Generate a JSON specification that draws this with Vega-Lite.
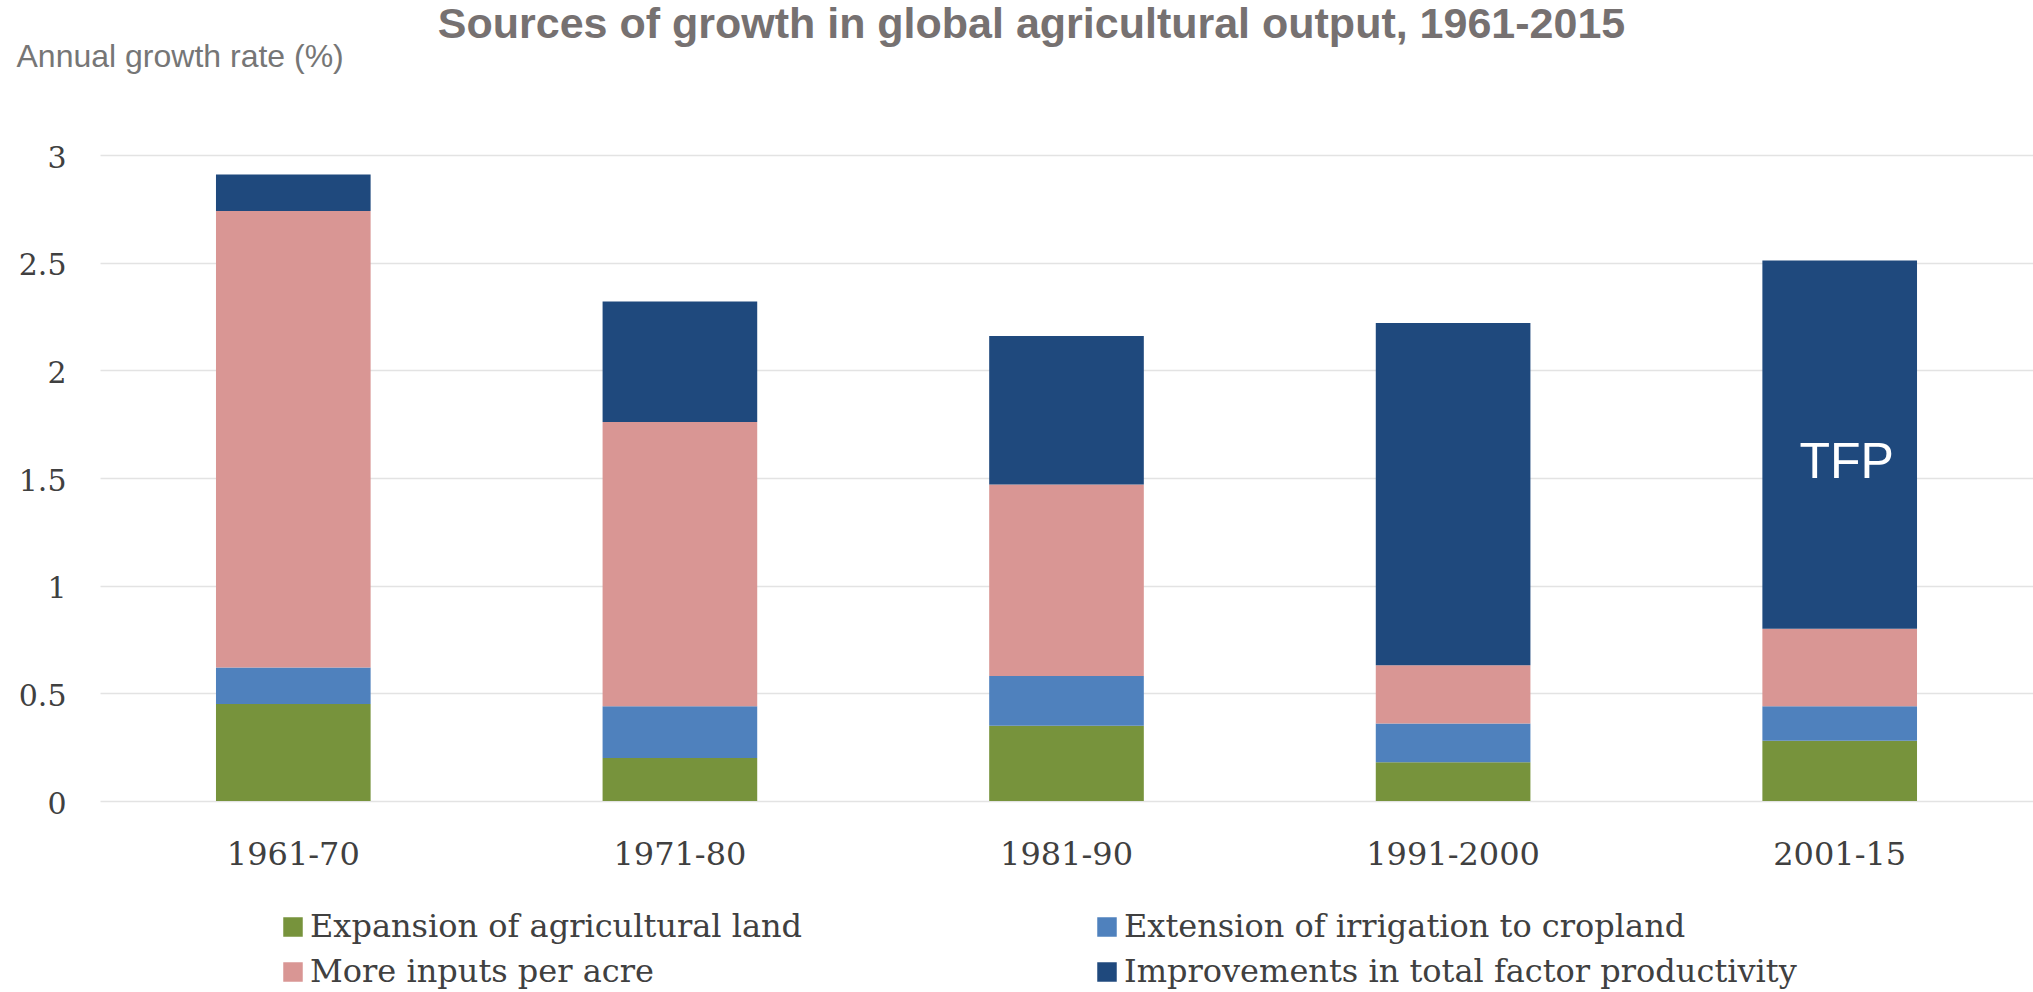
{
  "$schema": "https://vega.github.io/schema/vega-lite/v6.json",
  "width": 1933,
  "height": 646,
  "autosize": {"type": "none"},
  "padding": {"left": 100, "top": 155, "right": 0, "bottom": 191},
  "background": "white",
  "title": {
    "text": "Sources of growth in global agricultural output, 1961-2015",
    "font": "Liberation Sans",
    "fontSize": 43,
    "fontWeight": "bold",
    "color": "#767171",
    "anchor": "middle",
    "frame": "group",
    "dx": -35,
    "dy": 7,
    "offset": 0
  },
  "config": {
    "view": {"stroke": null},
    "axis": {"grid": false}
  },
  "layer": [
    {
      "data": {
        "values": [
          {"period": "1961-70", "source": "Expansion of agricultural land", "value": 0.45},
          {"period": "1961-70", "source": "Extension of irrigation to cropland", "value": 0.17},
          {"period": "1961-70", "source": "More inputs per acre", "value": 2.12},
          {"period": "1961-70", "source": "Improvements in total factor productivity", "value": 0.17},
          {"period": "1971-80", "source": "Expansion of agricultural land", "value": 0.20},
          {"period": "1971-80", "source": "Extension of irrigation to cropland", "value": 0.24},
          {"period": "1971-80", "source": "More inputs per acre", "value": 1.32},
          {"period": "1971-80", "source": "Improvements in total factor productivity", "value": 0.56},
          {"period": "1981-90", "source": "Expansion of agricultural land", "value": 0.35},
          {"period": "1981-90", "source": "Extension of irrigation to cropland", "value": 0.23},
          {"period": "1981-90", "source": "More inputs per acre", "value": 0.89},
          {"period": "1981-90", "source": "Improvements in total factor productivity", "value": 0.69},
          {"period": "1991-2000", "source": "Expansion of agricultural land", "value": 0.18},
          {"period": "1991-2000", "source": "Extension of irrigation to cropland", "value": 0.18},
          {"period": "1991-2000", "source": "More inputs per acre", "value": 0.27},
          {"period": "1991-2000", "source": "Improvements in total factor productivity", "value": 1.59},
          {"period": "2001-15", "source": "Expansion of agricultural land", "value": 0.28},
          {"period": "2001-15", "source": "Extension of irrigation to cropland", "value": 0.16},
          {"period": "2001-15", "source": "More inputs per acre", "value": 0.36},
          {"period": "2001-15", "source": "Improvements in total factor productivity", "value": 1.71}
        ]
      },
      "transform": [
        {"calculate": "indexof(['Expansion of agricultural land', 'Extension of irrigation to cropland', 'More inputs per acre', 'Improvements in total factor productivity'], datum.source)", "as": "stackOrder"}
      ],
      "mark": {"type": "bar"},
      "encoding": {
        "x": {
          "field": "period",
          "type": "nominal",
          "sort": null,
          "scale": {"paddingInner": 0.6, "paddingOuter": 0.3},
          "axis": {
            "title": null,
            "labelAngle": 0,
            "domain": false,
            "ticks": false,
            "labelFont": "DejaVu Serif",
            "labelFontSize": 32,
            "labelColor": "#404040",
            "labelPadding": 38
          }
        },
        "y": {
          "field": "value",
          "type": "quantitative",
          "stack": "zero",
          "scale": {"domain": [0, 3], "nice": false},
          "axis": {
            "values": [0, 0.5, 1, 1.5, 2, 2.5, 3],
            "format": "~g",
            "grid": true,
            "gridColor": "#e3e3e3",
            "gridWidth": 1.5,
            "domain": false,
            "ticks": false,
            "labelFont": "DejaVu Serif",
            "labelFontSize": 30,
            "labelColor": "#404040",
            "labelPadding": 34,
            "labelBaseline": "middle",
            "labelOffset": 3,
            "title": "Annual growth rate (%)",
            "titleAngle": 0,
            "titleAlign": "left",
            "titleBaseline": "alphabetic",
            "titleX": -84,
            "titleY": -89,
            "titleFont": "Liberation Sans",
            "titleFontSize": 32,
            "titleFontWeight": "normal",
            "titleColor": "#767676"
          }
        },
        "order": {"field": "stackOrder", "type": "quantitative", "sort": "ascending"},
        "color": {
          "field": "source",
          "type": "nominal",
          "sort": ["Expansion of agricultural land", "Extension of irrigation to cropland", "More inputs per acre", "Improvements in total factor productivity"],
          "scale": {
            "domain": ["Expansion of agricultural land", "Extension of irrigation to cropland", "More inputs per acre", "Improvements in total factor productivity"],
            "range": ["#77933C", "#4F81BD", "#D99694", "#1F497D"]
          },
          "legend": {
            "title": null,
            "orient": "none",
            "legendX": 177,
            "legendY": 756,
            "columns": 2,
            "direction": "horizontal",
            "padding": 0,
            "symbolType": "square",
            "symbolSize": 380,
            "symbolStrokeWidth": 0,
            "labelFont": "DejaVu Serif",
            "labelFontSize": 32,
            "labelColor": "#404040",
            "labelOffset": 1,
            "labelLimit": 1000,
            "columnPadding": 288,
            "rowPadding": 13
          }
        }
      }
    },
    {
      "data": {"values": [{"period": "2001-15", "value": 1.57, "label": "TFP"}]},
      "mark": {"type": "text", "font": "Liberation Sans", "fontSize": 50, "color": "white", "baseline": "middle", "align": "center", "dx": 7},
      "encoding": {
        "x": {"field": "period", "type": "nominal", "sort": null},
        "y": {"field": "value", "type": "quantitative"},
        "text": {"field": "label"}
      }
    }
  ]
}
